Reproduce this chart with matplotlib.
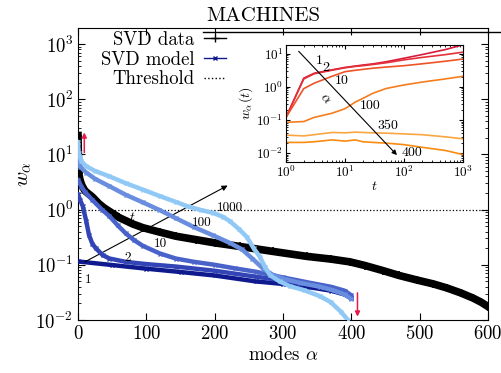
import matplotlib
matplotlib.use('Agg')
import matplotlib.pyplot as plt
from matplotlib.lines import Line2D

plt.rcParams['font.family'] = 'serif'
plt.rcParams['font.serif'] = ['cmr10']
plt.rcParams['mathtext.fontset'] = 'cm'
plt.rcParams['axes.formatter.use_mathtext'] = True

# SVD of the data (black '+')
alpha_data = [0, 1, 3, 6, 10, 15, 21, 30, 38, 46, 60, 80, 95, 120, 143, 173,
              200, 237, 285, 335, 370, 398, 420, 447, 470, 496, 520, 540, 560,
              578, 590, 600]
w_data = [22, 4.6, 3.4, 2.7, 2.2, 1.95, 1.7, 1.3, 1.08, 0.93, 0.72, 0.55, 0.47,
          0.39, 0.33, 0.285, 0.25, 0.215, 0.175, 0.142, 0.127, 0.113, 0.097,
          0.078, 0.064, 0.053, 0.045, 0.038, 0.031, 0.025, 0.021, 0.0175]

# SVD of the model at several times t
model_times = ['1', '2', '10', '100', '1000']
alpha_t1 = [0, 50, 100, 150, 200, 260, 300, 340, 370, 390, 400]
w_t1 = [0.115, 0.099, 0.085, 0.074, 0.064, 0.05, 0.045, 0.039, 0.034, 0.029, 0.025]
alpha_t2 = [0, 3, 7, 12, 16, 21, 26, 36, 46, 70, 100, 143, 200, 260, 300, 340,
            370, 390, 400]
w_t2 = [1.9, 1.5, 1.15, 0.62, 0.35, 0.24, 0.2, 0.15, 0.13, 0.113, 0.103, 0.093,
        0.078, 0.061, 0.052, 0.044, 0.037, 0.031, 0.026]
alpha_t10 = [0, 5, 10, 21, 35, 46, 58, 70, 82, 95, 120, 143, 170, 200, 230,
             260, 300, 340, 370, 390, 400]
w_t10 = [3.5, 2.6, 2.1, 1.5, 1.0, 0.76, 0.52, 0.37, 0.28, 0.22, 0.16, 0.13,
         0.113, 0.1, 0.086, 0.075, 0.059, 0.047, 0.04, 0.034, 0.028]
alpha_t100 = [0, 3, 12, 25, 46, 70, 95, 118, 143, 170, 198, 222, 240, 255, 271,
              285, 300, 325, 354, 375, 390, 400]
w_t100 = [8.1, 6.0, 4.7, 3.6, 2.65, 1.85, 1.35, 1.0, 0.7, 0.48, 0.34, 0.25,
          0.19, 0.13, 0.085, 0.066, 0.056, 0.047, 0.04, 0.034, 0.029, 0.024]
alpha_t1000 = [0, 1, 5, 12, 25, 46, 70, 95, 120, 143, 160, 180, 198, 212, 222,
               235, 247, 257, 266, 274, 281, 295, 310, 330, 354, 370, 385, 395]
w_t1000 = [17, 10.7, 7.5, 6.1, 5.0, 4.0, 3.0, 2.3, 1.75, 1.38, 1.15, 0.98,
           0.87, 0.74, 0.62, 0.45, 0.32, 0.2, 0.14, 0.09, 0.065, 0.05, 0.041,
           0.035, 0.027, 0.021, 0.014, 0.01]

threshold = 1.0

# inset: w_alpha(t) for a few modes
t_inset = [1, 2, 3, 6, 10, 15, 20, 30, 50, 100, 200, 500, 1000]
inset_modes = ['1', '2', '10', '100', '350', '400']
w_a1 = [0.12, 1.84, 2.6, 3.3, 3.9, 4.3, 4.6, 5.0, 5.8, 7.4, 9.5, 13.5, 18.9]
w_a2 = [0.12, 1.75, 2.5, 3.2, 3.8, 4.2, 4.4, 4.8, 5.4, 6.6, 7.8, 9.5, 11.3]
w_a10 = [0.12, 0.89, 1.3, 2.1, 2.9, 3.2, 3.4, 3.7, 4.0, 4.4, 5.0, 6.0, 7.0]
w_a100 = [0.085, 0.09, 0.12, 0.16, 0.22, 0.35, 0.45, 0.65, 0.9, 1.15, 1.4, 1.75, 2.1]
w_a350 = [0.035, 0.033, 0.036, 0.042, 0.041, 0.043, 0.042, 0.041, 0.04, 0.038,
          0.036, 0.031, 0.027]
w_a400 = [0.021, 0.021, 0.022, 0.025, 0.023, 0.025, 0.022, 0.021, 0.02, 0.018,
          0.015, 0.012, 0.009]


def main():
    fig = plt.figure(figsize=(5.02, 3.73), dpi=100)
    ax = fig.add_axes([0.1554, 0.1421, 0.8167, 0.7828])

    blues = ['#0f1a8e', '#3345b6', '#4963cb', '#6a8edf', '#90c8f6']
    xs = [alpha_t1, alpha_t2, alpha_t10, alpha_t100, alpha_t1000]
    ys = [w_t1, w_t2, w_t10, w_t100, w_t1000]
    # draw light (late) curves first so the dark ones sit on top
    for i in [4, 3, 2, 1, 0]:
        ax.plot(xs[i], ys[i], '-', color=blues[i], lw=3.2, marker='x', ms=2.5,
                solid_capstyle='round', solid_joinstyle='round',
                zorder=3 + i * 0.1)

    ax.plot(alpha_data, w_data, '-', color='k', lw=5.5, marker='+', ms=6,
            mew=1.2, solid_joinstyle='round', zorder=2.5)
    ax.axhline(threshold, color='k', ls=':', lw=0.9, zorder=2)

    # legend proxies
    h1 = Line2D([], [], color='k', marker='+', lw=1, ms=6)
    h2 = Line2D([], [], color='#0f1a8e', marker='x', lw=1, ms=3)
    h3 = Line2D([], [], color='k', ls=':', lw=1)
    ax.legend([h1, h2, h3], ['SVD data', 'SVD model', 'Threshold'],
              loc='upper right', bbox_to_anchor=(228 / 502, 1 - 29 / 373),
              bbox_transform=fig.transFigure, markerfirst=False,
              frameon=False, fontsize=13.5, handlelength=1.2,
              handletextpad=0.5, labelspacing=0.1, borderpad=0.1,
              borderaxespad=0)

    # arrow across the model curves (increasing t)
    ax.annotate('', xy=(219, 2.73), xytext=(10, 0.113),
                arrowprops=dict(arrowstyle='-|>', color='k', lw=0.8,
                                mutation_scale=8, shrinkA=0, shrinkB=0))
    label_pos = [(15, 0.053), (73, 0.134), (120, 0.24), (181, 0.58), (222, 1.05)]
    for lab, (lx, ly) in zip(model_times, label_pos):
        ax.text(lx, ly, lab, fontsize=9.5, ha='center', va='center', zorder=6)
    ax.text(80, 0.71, '$t$', fontsize=10, ha='center', va='center', zorder=6)

    # red arrows
    ax.annotate('', xy=(9.2, 25), xytext=(9.2, 10.8),
                arrowprops=dict(arrowstyle='-|>', color='#e8194b', lw=1.1,
                                mutation_scale=7, shrinkA=0, shrinkB=0))
    ax.annotate('', xy=(409, 0.0115), xytext=(409, 0.031),
                arrowprops=dict(arrowstyle='-|>', color='#e8194b', lw=1.1,
                                mutation_scale=7, shrinkA=0, shrinkB=0))

    ax.set_yscale('log')
    ax.set_xlim(0, 600)
    ax.set_ylim(1e-2, 10 ** 3.29)
    ax.set_xticks([0, 100, 200, 300, 400, 500, 600])
    ax.tick_params(which='both', direction='in', top=True, right=True,
                   labelsize=13.5)
    ax.tick_params(which='major', length=5)
    ax.tick_params(which='minor', length=2.5)
    ax.set_xlabel(r'modes $\alpha$', fontsize=13.5, labelpad=2)
    ax.set_ylabel(r'$w_\alpha$', fontsize=15, labelpad=2)

    fig.text(263 / 502, 1 - 16 / 373, 'MACHINES', fontsize=15,
             ha='center', va='center')
    fig.add_artist(Line2D([203 / 502, 1.0], [1 - 32 / 373, 1 - 32 / 373],
                          color='k', lw=1.0, transform=fig.transFigure))

    # inset
    axi = fig.add_axes([0.5697, 0.5657, 0.3526, 0.3137])
    reds = ['#d81b3c', '#e5303a', '#ee5328', '#f57d1e', '#f9a640', '#f88b10']
    wins = [w_a1, w_a2, w_a10, w_a100, w_a350, w_a400]
    for c, w in zip(reds, wins):
        axi.plot(t_inset, w, '-', color=c, lw=1.2)
    axi.annotate('', xy=(76, 0.0087), xytext=(1.64, 12),
                 arrowprops=dict(arrowstyle='-|>', color='k', lw=0.8,
                                 mutation_scale=7, shrinkA=0, shrinkB=0))
    ins_pos = [(3.7, 6.25), (4.8, 3.7), (8.7, 1.53), (27, 0.26), (53, 0.067),
               (135, 0.0103)]
    for lab, (lx, ly) in zip(inset_modes, ins_pos):
        axi.text(lx, ly, lab, fontsize=10, ha='center', va='center')
    axi.text(4.6, 0.42, r'$\alpha$', fontsize=10, rotation=-50,
             ha='center', va='center')
    axi.set_xscale('log')
    axi.set_yscale('log')
    axi.set_xlim(1, 1000)
    axi.set_ylim(10 ** -2.27, 10 ** 1.27)
    axi.tick_params(which='both', direction='in', top=True, right=True,
                    labelsize=9.5, pad=2)
    axi.tick_params(which='major', length=3)
    axi.tick_params(which='minor', length=1.5)
    axi.set_xlabel('$t$', fontsize=10, labelpad=0)
    axi.set_ylabel(r'$w_\alpha(t)$', fontsize=10, labelpad=1)

    fig.savefig('out.png', dpi=100)


if __name__ == "__main__":
    main()
